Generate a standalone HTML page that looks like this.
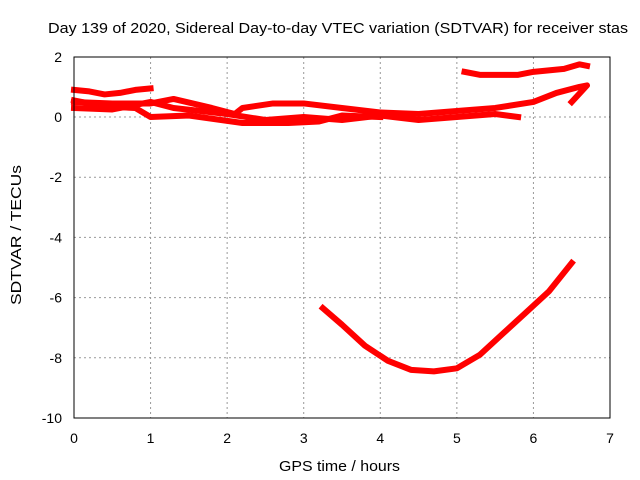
<!DOCTYPE html>
<html><head><meta charset="utf-8"><style>body{margin:0;background:#fff}svg{display:block;font-family:"Liberation Sans",sans-serif}</style></head>
<body>
<svg id="chart" width="640" height="480" viewBox="0 0 640 480">
<text x="48" y="33" font-size="15" fill="#000" textLength="580" lengthAdjust="spacingAndGlyphs">Day 139 of 2020, Sidereal Day-to-day VTEC variation (SDTVAR) for receiver stas</text>
<g id="grid"></g>
<g id="series"></g>
<rect x="74" y="57" width="536" height="361" fill="none" stroke="#000" stroke-width="1"/>
<g id="ticks"></g>
<text x="279" y="471" font-size="15" textLength="121" lengthAdjust="spacingAndGlyphs">GPS time / hours</text>
<text transform="translate(21,305) rotate(-90)" font-size="15" textLength="140" lengthAdjust="spacingAndGlyphs">SDTVAR / TECUs</text>
</svg>
<script>
const xTicks=[0,1,2,3,4,5,6,7];
const yTicks=[2,0,-2,-4,-6,-8,-10];
const s1x=[0,0.2,0.4,0.6,0.8,1.0];
const s1y=[0.9,0.85,0.75,0.8,0.9,0.95];
const s2x=[0,0.5,1,1.3,1.8,2.1,2.2,2.6,3.0,3.5,4,4.5,5,5.5,6,6.3,6.6,6.7,6.5];
const s2y=[0.5,0.45,0.45,0.6,0.3,0.1,0.3,0.45,0.45,0.3,0.15,0.1,0.2,0.3,0.5,0.8,1.0,1.05,0.5];
const s3x=[0,0.5,1,1.3,2,2.5,3,3.5,4,4.5,5,5.5,5.8];
const s3y=[0.3,0.25,0.5,0.3,0.1,-0.1,0.0,-0.1,0.05,-0.1,0.0,0.1,0.0];
const s4x=[0,0.4,0.8,1.0,1.5,2.2,2.8,3.2,3.5,4.0];
const s4y=[0.55,0.35,0.3,0.0,0.05,-0.2,-0.2,-0.15,0.05,0.0];
const s5x=[5.1,5.3,5.8,6.0,6.4,6.6,6.7];
const s5y=[1.5,1.4,1.4,1.5,1.6,1.75,1.7];
const s6x=[3.25,3.5,3.8,4.1,4.4,4.7,5.0,5.3,5.6,5.9,6.2,6.5];
const s6y=[-6.35,-6.9,-7.6,-8.1,-8.4,-8.45,-8.35,-7.9,-7.2,-6.5,-5.8,-4.85];
const X=v=>74+v*(536/7), Y=v=>117-v*30.1;
const NS="http://www.w3.org/2000/svg";
const grid=document.getElementById('grid'),ticks=document.getElementById('ticks'),ser=document.getElementById('series');
function mk(t,a,p){const e=document.createElementNS(NS,t);for(const k in a)e.setAttribute(k,a[k]);p.appendChild(e);return e;}
xTicks.forEach(v=>{
 if(v>0&&v<7){const g=mk('line',{x1:X(v),x2:X(v),y1:57,y2:418,stroke:'#999','stroke-dasharray':'2,3'},grid);
 
 }
 const t=mk('text',{x:X(v),y:443,'font-size':14,'text-anchor':'middle'},ticks);t.textContent=v;
 
 
});
yTicks.forEach(v=>{
 if(v<2&&v>-10){const g=mk('line',{x1:74,x2:610,y1:Y(v),y2:Y(v),stroke:'#999','stroke-dasharray':'2,3'},grid);
 
 }
 const t=mk('text',{x:62,y:Y(v)+5,'font-size':14,'text-anchor':'end'},ticks);t.textContent=v;
 
 
});
[[s1x,s1y],[s2x,s2y],[s3x,s3y],[s4x,s4y],[s5x,s5y],[s6x,s6y]].forEach((s,i)=>{
 const pts=s[0].map((x,j)=>X(x)+','+Y(s[1][j])).join(' ');
 const p=mk('polyline',{points:pts,fill:'none',stroke:'#f00','stroke-width':6,'stroke-linejoin':'round','stroke-linecap':'square'},ser);
 
 
});
</script>
</body></html>
